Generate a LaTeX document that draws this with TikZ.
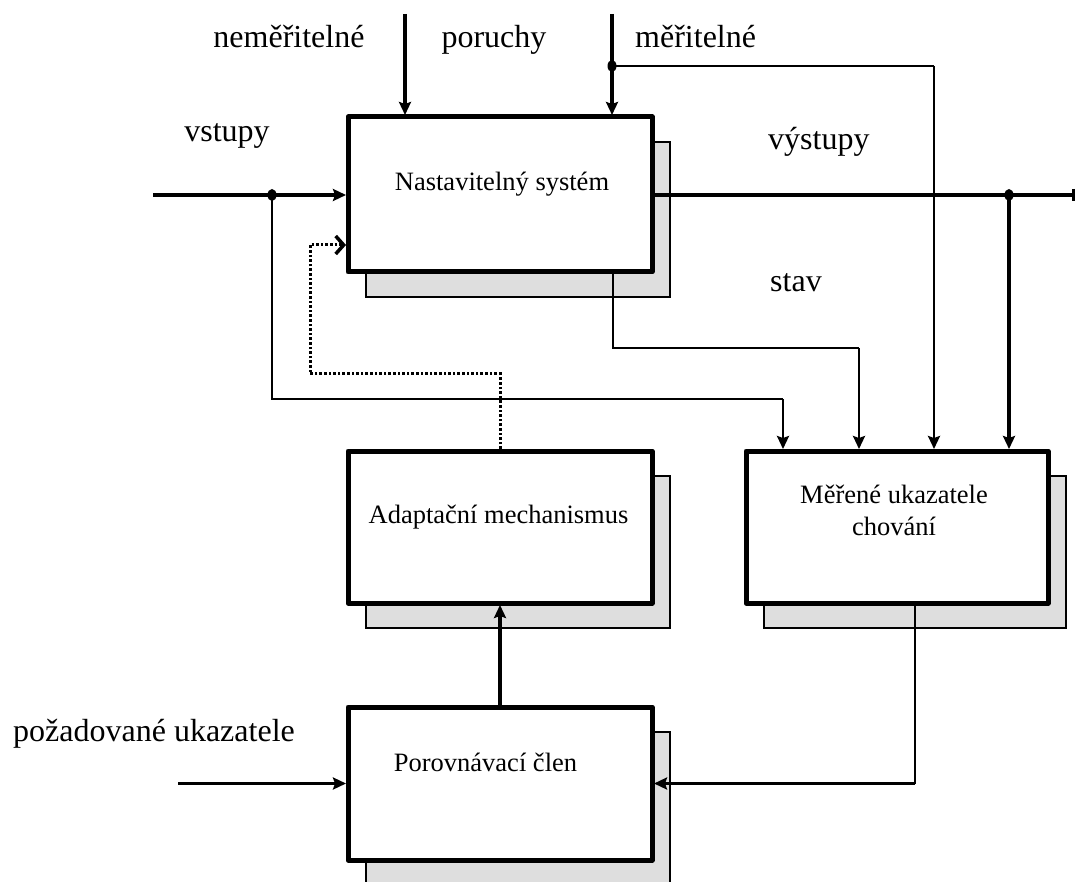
\documentclass[tikz,border=0pt]{standalone}
\usepackage{fontspec}
\setmainfont{Liberation Serif}
\usetikzlibrary{arrows.meta,backgrounds}
\definecolor{shd}{HTML}{DEDEDE}
\newcommand\dropshadow[1]{\filldraw[shadowbox] ([xshift=20pt,yshift=-27pt]#1.north west) rectangle ([xshift=16pt,yshift=-23pt]#1.south east);}
\begin{document}
\begin{tikzpicture}[x=1pt,y=-1pt,
  box/.style={rectangle, draw, line width=5pt, outer sep=2pt, fill=white, inner sep=0pt, line join=round},
  shadowbox/.style={fill=shd, draw=black, line width=2.4pt},
  lbl/.style={font=\fontsize{32}{38}\selectfont, inner sep=0pt, anchor=base},
  btxt/.style={font=\fontsize{26.5}{32}\selectfont, inner sep=0pt, anchor=base, align=center},
  arr/.style={line width=3.2pt, -{Stealth[length=13pt,width=12pt,inset=2pt]}},
  medarr/.style={line width=2.5pt, -{Stealth[length=13pt,width=12pt,inset=2pt]}},
  thinl/.style={line width=1.6pt},
  dotline/.style={line width=3pt, dash pattern=on 2.6pt off 2pt, -{Straight Barb[length=8pt,width=18pt,line width=3.5pt]}},
  junction/.style={fill=black}
]
\useasboundingbox (0,0) rectangle (1076,882);

% boxes
\node[box, minimum width=304pt, minimum height=155pt] (b1) at (500,194.5) {};
\node[box, minimum width=304pt, minimum height=152pt] (b2) at (500,527) {};
\node[box, minimum width=304pt, minimum height=153pt] (b3) at (500,783.5) {};
\node[box, minimum width=302pt, minimum height=152pt] (b4) at (897,527) {};

\begin{scope}[on background layer]
  \dropshadow{b1}
  \dropshadow{b2}
  \dropshadow{b3}
  \dropshadow{b4}
\end{scope}

% box texts
\node[btxt] (x1) at (502,191) {Nastavitelný systém};
\node[btxt] (x2) at (498.5,523) {Adaptační mechanismus};
\node[btxt] (x3) at (485.5,771) {Porovnávací člen};
\node[btxt] (x4) at (894,535) {Měřené ukazatele\\chování};

% labels
\node[lbl] (l1) at (289,48) {neměřitelné};
\node[lbl] (l2) at (494,48) {poruchy};
\node[lbl, anchor=base west] (l3) at (635,48) {měřitelné};
\node[lbl] (l4) at (227,142) {vstupy};
\node[lbl, anchor=base west] (l5) at (768,150) {výstupy};
\node[lbl, anchor=base west] (l6) at (770,292) {stav};
\node[lbl, anchor=base west] (l7) at (13,741) {požadované ukazatele};

% coordinates
\coordinate (t1) at (405,14);
\coordinate (t2) at (612,14);
\coordinate (d1) at (612,66);
\coordinate (v1) at (934,66);
\coordinate (in1) at (153,195);
\coordinate (d2) at (272,195);
\coordinate (h1) at (783,399);
\coordinate (s0) at (613,272);
\coordinate (s1) at (859,348);
\coordinate (out) at (1075,195);
\coordinate (d3) at (1009,195);
\coordinate (m0) at (915,603);
\coordinate (m1) at (915,783.5);
\coordinate (r0) at (178,783.5);
\coordinate (q1) at (310,374);
\coordinate (q2) at (346,245);

% disturbances
\draw[arr] (t1) -- (t1 |- b1.north);
\draw[arr] (t2) -- (t2 |- b1.north);
\draw[thinl] (d1) -- (v1);
\draw[medarr] (v1) -- (v1 |- b4.north);

% inputs
\draw[arr] (in1) -- (in1 -| b1.west);
\draw[thinl] (d2) |- (h1);
\draw[medarr] (h1) -- (h1 |- b4.north);

% state
\draw[thinl] (s0) |- (s1);
\draw[medarr] (s1) -- (s1 |- b4.north);

% outputs
\draw[line width=3.2pt, -{Bar[width=12pt,line width=3pt]}] (b1.east |- out) -- (out);
\draw[arr] (d3) -- (d3 |- b4.north);

% measured -> comparison
\draw[thinl] (m0) -- (m1);
\draw[arr] (m1) -- (m1 -| b3.east);
\draw[arr] (r0) -- (r0 -| b3.west);
\draw[arr] (b3.north) -- (b2.south);

% adaptation (dotted)
\draw[dotline] (b2.north) |- (q1) |- (q2);

% junction dots
\fill[junction] (d1) ellipse [x radius=4.5, y radius=6];
\fill[junction] (d2) ellipse [x radius=4.5, y radius=6];
\fill[junction] (d3) ellipse [x radius=4.5, y radius=6];
\end{tikzpicture}
\end{document}
